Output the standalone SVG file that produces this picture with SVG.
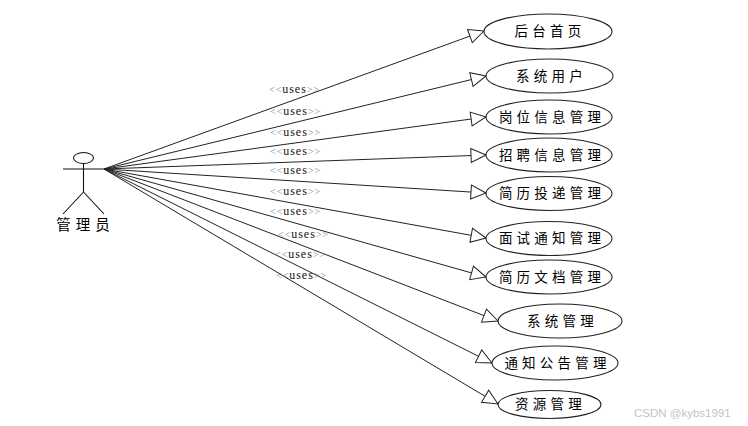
<svg xmlns="http://www.w3.org/2000/svg" width="748" height="426" viewBox="0 0 748 426">
<style>
.bg{fill:#fff}
.n ellipse{fill:#fff;stroke:#222;stroke-width:1.1}
.n text,.actor text{font-family:"Noto Sans CJK SC","Liberation Sans",sans-serif;font-size:13.5px;fill:#000;text-anchor:middle;dominant-baseline:central;letter-spacing:4.2px}
.c line{stroke:#222;stroke-width:1;marker-end:url(#tri)}
.actor line,.actor ellipse{stroke:#111;stroke-width:1.1;fill:#fff}
.actor text{font-size:14.5px;letter-spacing:5px}
.u{font-family:"Liberation Serif",serif;font-size:12px;fill:#111;text-anchor:middle;letter-spacing:1px}
.u tspan{fill:#888;font-size:10.5px;letter-spacing:.6px}
.wm{font-family:"Liberation Sans",sans-serif;font-size:11.5px;fill:#c4c4c4}
</style>
<defs>
<marker id="tri" markerUnits="userSpaceOnUse" markerWidth="24" markerHeight="24" refX="20" refY="12" orient="auto" overflow="visible">
<polygon points="20,12 5,5 5,19" fill="#fff" stroke="#222" stroke-width="1"/>
</marker>
</defs>
<rect class="bg" width="748" height="426"/>
<g id="connectors" class="c">
<line x1="104" y1="169" x2="484" y2="31"/>
<line x1="104" y1="169" x2="486" y2="76"/>
<line x1="104" y1="169" x2="486" y2="117"/>
<line x1="104" y1="169" x2="486" y2="155"/>
<line x1="104" y1="169" x2="486" y2="193"/>
<line x1="104" y1="169" x2="486" y2="238"/>
<line x1="104" y1="169" x2="486" y2="277"/>
<line x1="104" y1="169" x2="498" y2="321"/>
<line x1="104" y1="169" x2="492" y2="363"/>
<line x1="104" y1="169" x2="498" y2="404"/>
</g>
<g id="labels">
<text class="u" x="294.5" y="93"><tspan>&lt;&lt;</tspan>uses<tspan>&gt;&gt;</tspan></text>
<text class="u" x="295.5" y="115"><tspan>&lt;&lt;</tspan>uses<tspan>&gt;&gt;</tspan></text>
<text class="u" x="295.5" y="136"><tspan>&lt;&lt;</tspan>uses<tspan>&gt;&gt;</tspan></text>
<text class="u" x="295.5" y="155"><tspan>&lt;&lt;</tspan>uses<tspan>&gt;&gt;</tspan></text>
<text class="u" x="295.5" y="174"><tspan>&lt;&lt;</tspan>uses<tspan>&gt;&gt;</tspan></text>
<text class="u" x="295.5" y="195"><tspan>&lt;&lt;</tspan>uses<tspan>&gt;&gt;</tspan></text>
<text class="u" x="295.5" y="215"><tspan>&lt;&lt;</tspan>uses<tspan>&gt;&gt;</tspan></text>
<text class="u" x="303.5" y="238"><tspan>&lt;&lt;</tspan>uses<tspan>&gt;&gt;</tspan></text>
<text class="u" x="300.5" y="258"><tspan>&lt;&lt;</tspan>uses<tspan>&gt;&gt;</tspan></text>
<text class="u" x="301.5" y="279"><tspan>&lt;&lt;</tspan>uses<tspan>&gt;&gt;</tspan></text>
</g>
<g id="actor" class="actor">
<ellipse cx="83.5" cy="158" rx="10" ry="5.5"/>
<line x1="63" y1="169" x2="104" y2="169"/>
<line x1="83.5" y1="163.5" x2="83.5" y2="192"/>
<line x1="83.5" y1="192" x2="63" y2="214"/>
<line x1="83.5" y1="192" x2="104" y2="214"/>
<text x="85.5" y="223">管理员</text>
</g>
<g id="n1" class="n"><ellipse cx="548" cy="31.5" rx="64" ry="17.5"/><text x="550" y="30">后台首页</text></g>
<g id="n2" class="n"><ellipse cx="549.5" cy="76" rx="63.5" ry="17"/><text x="551.5" y="74.5">系统用户</text></g>
<g id="n3" class="n"><ellipse cx="549" cy="117" rx="63" ry="17"/><text x="552" y="115.5">岗位信息管理</text></g>
<g id="n4" class="n"><ellipse cx="549" cy="155" rx="63" ry="17"/><text x="552" y="153.5">招聘信息管理</text></g>
<g id="n5" class="n"><ellipse cx="549" cy="193.5" rx="63" ry="17"/><text x="552" y="192">简历投递管理</text></g>
<g id="n6" class="n"><ellipse cx="549" cy="238.5" rx="63" ry="17"/><text x="552" y="237">面试通知管理</text></g>
<g id="n7" class="n"><ellipse cx="549" cy="277" rx="63" ry="17"/><text x="552" y="275.5">简历文档管理</text></g>
<g id="n8" class="n"><ellipse cx="560" cy="321" rx="62" ry="17"/><text x="562.5" y="319.5">系统管理</text></g>
<g id="n9" class="n"><ellipse cx="555" cy="363" rx="63" ry="17"/><text x="557.5" y="361.5">通知公告管理</text></g>
<g id="n10" class="n"><ellipse cx="549.5" cy="404.5" rx="51.5" ry="14"/><text x="550.5" y="403">资源管理</text></g>
<text class="wm" x="634" y="417">CSDN @kybs1991</text>
</svg>
